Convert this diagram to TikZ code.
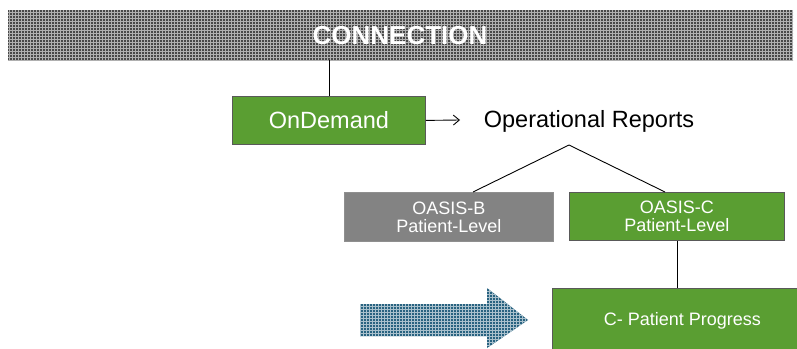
\documentclass[tikz,border=0pt]{standalone}
\usepackage{fontspec}
\setmainfont{Liberation Sans}
\usetikzlibrary{patterns,arrows.meta}
\definecolor{bgreen}{RGB}{90,158,50}
\definecolor{bgray}{RGB}{131,131,131}
\definecolor{banner}{RGB}{72,72,72}
\definecolor{arrowblue}{RGB}{40,98,128}
\tikzset{
  gbox/.style={draw=black!65, line width=0.8pt, fill=bgreen, text=white, align=center, inner sep=0pt, anchor=north west},
  graybox/.style={draw=bgray!90, line width=0.8pt, fill=bgray, text=white, align=center, inner sep=0pt, anchor=north west},
  conn/.style={draw=black, line width=0.9pt},
}
\begin{document}
\begin{tikzpicture}[x=1pt,y=-1pt]
\useasboundingbox (0,0) rectangle (797,348);
% banner
\fill[banner] (8,10) rectangle (793,60);
\pattern[pattern=grid, pattern color=gray!62] (8,10) rectangle (793,60);
\node[text=white, font=\fontsize{26}{28}\selectfont\bfseries] (conn) at (400,36) {CONNECTION};
\coordinate (bannerbot) at (329,60);
% boxes
\node[gbox, minimum width=193pt, minimum height=48pt, font=\fontsize{23.5}{26}\selectfont] (ond) at (232,96) {OnDemand};
\node[font=\fontsize{23.5}{26}\selectfont, inner sep=0pt] (ops) at (589,121) {Operational Reports};
\coordinate (apex) at (569,145);
\node[graybox, minimum width=209pt, minimum height=49pt, font=\fontsize{18}{18}\selectfont] (oasb) at (344,192) {OASIS-B\\Patient-Level};
\node[gbox, minimum width=215pt, minimum height=48pt, font=\fontsize{18}{18}\selectfont] (oasc) at (569,192) {OASIS-C\\Patient-Level};
\node[gbox, minimum width=260pt, minimum height=64pt, font=\fontsize{18}{20}\selectfont] (cpp) at (552,288) {C- Patient Progress};
% connectors
\coordinate (arrend) at (460,120);
\coordinate (bl) at (473,192);
\coordinate (br) at (665,192);
\draw[conn] (bannerbot) -- (ond.north -| bannerbot);
\draw[conn, -{Straight Barb[length=6pt,width=10pt]}] (ond.east) -- (arrend);
\draw[conn] (bl) -- (apex) -- (br);
\coordinate (vx) at (677,0);
\draw[conn] (oasc.south -| vx) -- (cpp.north -| vx);
% block arrow
\path[fill=arrowblue] (360,304) -- (487,304) -- (487,288) -- (528,320) -- (487,348) -- (487,336) -- (360,336) -- cycle;
\path[pattern=grid, pattern color=arrowblue!40] (360,304) -- (487,304) -- (487,288) -- (528,320) -- (487,348) -- (487,336) -- (360,336) -- cycle;
\end{tikzpicture}
\end{document}
